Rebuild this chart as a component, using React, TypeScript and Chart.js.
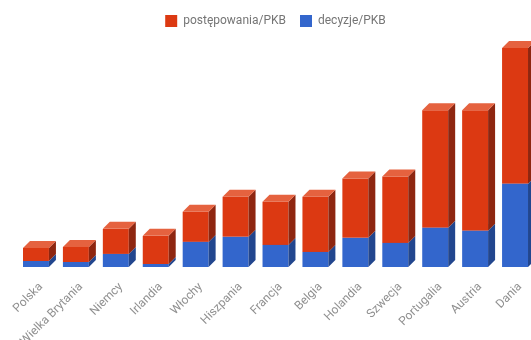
import React, { useEffect, useRef } from "react";
import { Chart, registerables } from "chart.js";

Chart.register(...registerables);

const categories = [
  "Polska",
  "Wielka Brytania",
  "Niemcy",
  "Irlandia",
  "Włochy",
  "Hiszpania",
  "Francja",
  "Belgia",
  "Holandia",
  "Szwecja",
  "Portugalia",
  "Austria",
  "Dania",
];

const postepowania = [1.3, 1.5, 2.5, 2.8, 3.0, 4.0, 4.3, 5.5, 5.9, 6.6, 11.7, 12.0, 13.5];
const decyzje = [0.6, 0.5, 1.3, 0.3, 2.5, 3.0, 2.2, 1.5, 2.9, 2.4, 3.9, 3.6, 8.3];

const seriesNames = ["postępowania/PKB", "decyzje/PKB"];

const RED = "#DC3912";
const RED_TOP = "#E5623F";
const RED_SIDE = "#8E2610";
const BLUE = "#3366CC";
const BLUE_TOP = "#5C85D6";
const BLUE_SIDE = "#22468E";

const DEPTH = 7;

const threeD = {
  id: "threeD",
  afterDatasetsDraw(chart: any) {
    const ctx = chart.ctx;
    const n = chart.data.datasets.length;
    ctx.save();
    for (let di = 0; di < n; di++) {
      const meta = chart.getDatasetMeta(di);
      const ds = chart.data.datasets[di];
      meta.data.forEach((el: any) => {
        const p = el.getProps(["x", "y", "base", "width"], true);
        const left = p.x - p.width / 2;
        const right = p.x + p.width / 2;
        const top = Math.min(p.y, p.base);
        const bottom = Math.max(p.y, p.base);
        ctx.fillStyle = ds.sideColor;
        ctx.beginPath();
        ctx.moveTo(right, top);
        ctx.lineTo(right + DEPTH, top - DEPTH);
        ctx.lineTo(right + DEPTH, bottom - DEPTH);
        ctx.lineTo(right, bottom);
        ctx.closePath();
        ctx.fill();
        if (di === n - 1) {
          ctx.fillStyle = ds.topColor;
          ctx.beginPath();
          ctx.moveTo(left, top);
          ctx.lineTo(left + DEPTH, top - DEPTH);
          ctx.lineTo(right + DEPTH, top - DEPTH);
          ctx.lineTo(right, top);
          ctx.closePath();
          ctx.fill();
        }
      });
    }
    ctx.restore();
  },
};

export default function App() {
  const ref = useRef<HTMLCanvasElement | null>(null);
  useEffect(() => {
    if (!ref.current) return;
    const chart = new Chart(ref.current, {
      type: "bar",
      data: {
        labels: categories,
        datasets: [
          {
            label: seriesNames[1],
            data: decyzje,
            backgroundColor: BLUE,
            borderWidth: 0,
            sideColor: BLUE_SIDE,
            topColor: BLUE_TOP,
          } as any,
          {
            label: seriesNames[0],
            data: postepowania,
            backgroundColor: RED,
            borderWidth: 0,
            sideColor: RED_SIDE,
            topColor: RED_TOP,
          } as any,
        ],
      },
      plugins: [threeD],
      options: {
        animation: false,
        responsive: true,
        maintainAspectRatio: false,
        layout: { padding: { left: 16, right: 1, top: 1, bottom: 0 } },
        datasets: {
          bar: { barPercentage: 0.65, categoryPercentage: 1 },
        },
        plugins: {
          tooltip: { enabled: false },
          legend: {
            display: true,
            position: "top",
            reverse: true,
            labels: {
              boxWidth: 12,
              boxHeight: 12,
              padding: 14,
              color: "#757575",
              font: { family: "Roboto", size: 12 },
            },
          },
        },
        scales: {
          x: {
            stacked: true,
            grid: { display: false },
            border: { display: false },
            ticks: {
              minRotation: 45,
              maxRotation: 45,
              color: "#909090",
              font: { family: "Roboto", size: 12 },
              padding: 5,
              labelOffset: 5,
            },
            afterFit: (scale: any) => {
              scale.height = 73;
            },
          },
          y: {
            stacked: true,
            display: false,
            min: 0,
            max: 22.9,
          },
        },
      },
    });
    return () => chart.destroy();
  }, []);
  return (
    <div
      style={{
        position: "fixed",
        left: 0,
        top: 0,
        width: 531,
        height: 340,
        overflow: "hidden",
        background: "#fff",
      }}
    >
      <div style={{ position: "relative", width: 536, height: 340 }}>
        <canvas ref={ref} />
      </div>
    </div>
  );
}
